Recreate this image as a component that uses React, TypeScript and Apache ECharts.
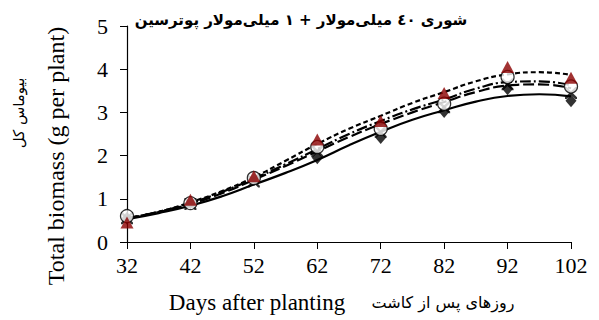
import React, { useEffect, useRef } from "react";
import * as echarts from "echarts";

const days = [32, 42, 52, 62, 72, 82, 92, 102];
const triangleVals = [0.45, 0.98, 1.52, 2.37, 2.8, 3.45, 4.05, 3.8];
const circleVals = [0.6, 0.9, 1.48, 2.2, 2.62, 3.2, 3.82, 3.6];
const crossVals = [0.55, 0.88, 1.4, 2.1, 2.55, 3.12, 3.65, 3.45];
const diamondVals = [0.55, 0.9, 1.45, 1.95, 2.42, 3.02, 3.55, 3.27];

// fitted curves
const curveDays = [32, 37, 42, 47, 52, 57, 62, 67, 72, 77, 82, 87, 92, 97, 102];
const curveShortDash = [0.55, 0.7, 0.92, 1.18, 1.5, 1.88, 2.27, 2.62, 2.92, 3.22, 3.47, 3.72, 3.88, 3.93, 3.87];
const curveDashDot = [0.55, 0.7, 0.9, 1.16, 1.47, 1.8, 2.15, 2.5, 2.8, 3.07, 3.3, 3.55, 3.7, 3.72, 3.63];
const curveLongDash = [0.55, 0.69, 0.88, 1.13, 1.44, 1.76, 2.1, 2.43, 2.73, 3.0, 3.24, 3.47, 3.62, 3.65, 3.56];
const curveSolid = [0.53, 0.67, 0.84, 1.06, 1.33, 1.6, 1.9, 2.24, 2.55, 2.83, 3.05, 3.25, 3.38, 3.42, 3.37];

const xTicks = [32, 42, 52, 62, 72, 82, 92, 102];

const titleText = "شوری ٤٠ میلی‌مولار + ١ میلی‌مولار پوترسین";
const yNameEn = "Total biomass (g per plant)";
const yNameFa = "بیوماس کل";
const xNameEn = "Days after planting";
const xNameFa = "روزهای پس از کاشت";

const serif = "'Liberation Serif', 'Times New Roman', serif";
const faFont = "'DejaVu Sans', sans-serif";

const crossPath =
  "path://M0,0 L1.4,0 L5,3.6 L8.6,0 L10,0 L10,1.4 L6.4,5 L10,8.6 L10,10 L8.6,10 L5,6.4 L1.4,10 L0,10 L0,8.6 L3.6,5 L0,1.4 Z";

function pairs(xs: number[], ys: number[]) {
  return xs.map((x, i) => [x, ys[i]]);
}

export default function App() {
  const ref = useRef<HTMLDivElement>(null);
  useEffect(() => {
    if (!ref.current) return;
    const chart = echarts.init(ref.current, null, { renderer: "svg" });
    const lineSeries = (data: number[], type: any) => ({
      type: "line",
      data: pairs(curveDays, data),
      smooth: true,
      showSymbol: false,
      symbol: "none",
      lineStyle: { color: "#000", width: 2.2, type },
      z: 2,
    });
    chart.setOption({
      animation: false,
      grid: { left: 127, right: 28, top: 26, bottom: 78 },
      xAxis: {
        type: "value",
        min: 32,
        max: 102,
        axisLine: { show: true, lineStyle: { color: "#000", width: 1.2 } },
        axisTick: { show: true, customValues: xTicks, length: 7, lineStyle: { color: "#000" } },
        axisLabel: {
          customValues: xTicks,
          color: "#000",
          fontFamily: serif,
          fontSize: 22,
          margin: 12,
        },
        splitLine: { show: false },
      },
      yAxis: {
        type: "value",
        min: 0,
        max: 5,
        interval: 1,
        axisLine: { show: true, lineStyle: { color: "#000", width: 1.2 } },
        axisTick: { show: true, length: 7, lineStyle: { color: "#000" } },
        axisLabel: { color: "#000", fontFamily: serif, fontSize: 22, margin: 19 },
        splitLine: { show: false },
      },
      graphic: [
        {
          type: "text",
          x: 301,
          y: 20,
          style: {
            text: titleText,
            font: `bold 15px ${faFont}`,
            fill: "#000",
            align: "center",
            verticalAlign: "middle",
          },
        },
        {
          type: "text",
          x: 56,
          y: 156,
          rotation: Math.PI / 2,
          style: {
            text: yNameEn,
            font: `24px ${serif}`,
            fill: "#000",
            align: "center",
            verticalAlign: "middle",
          },
        },
        {
          type: "text",
          x: 19,
          y: 113,
          rotation: Math.PI / 2,
          style: {
            text: yNameFa,
            font: `15px ${faFont}`,
            fill: "#000",
            align: "center",
            verticalAlign: "middle",
          },
        },
        {
          type: "text",
          x: 257,
          y: 302,
          style: {
            text: xNameEn,
            font: `23px ${serif}`,
            fill: "#000",
            align: "center",
            verticalAlign: "middle",
          },
        },
        {
          type: "text",
          x: 443,
          y: 302,
          style: {
            text: xNameFa,
            font: `16px ${faFont}`,
            fill: "#000",
            align: "center",
            verticalAlign: "middle",
          },
        },
      ],
      series: [
        lineSeries(curveSolid, "solid"),
        lineSeries(curveLongDash, [11, 4]),
        lineSeries(curveDashDot, [11, 3, 2, 3]),
        lineSeries(curveShortDash, [5, 3]),
        {
          type: "scatter",
          data: pairs(days, diamondVals),
          symbol: "diamond",
          symbolSize: [11, 13],
          itemStyle: { color: "#000" },
          z: 3,
        },
        {
          type: "scatter",
          data: pairs(days, crossVals),
          symbol: crossPath,
          symbolSize: 12,
          itemStyle: { color: "#000" },
          z: 4,
        },
        {
          type: "scatter",
          data: pairs(days, circleVals),
          symbol: "circle",
          symbolSize: 13,
          itemStyle: { color: "#fff", borderColor: "#000", borderWidth: 1.3 },
          z: 5,
        },
        {
          type: "scatter",
          data: pairs(days, triangleVals),
          symbol: "triangle",
          symbolSize: [13, 12],
          itemStyle: { color: "#8B0000" },
          z: 6,
        },
      ],
    });
    return () => chart.dispose();
  }, []);
  return (
    <div
      ref={ref}
      style={{ position: "fixed", left: 0, top: 0, width: 599, height: 320, background: "#fff" }}
    />
  );
}
